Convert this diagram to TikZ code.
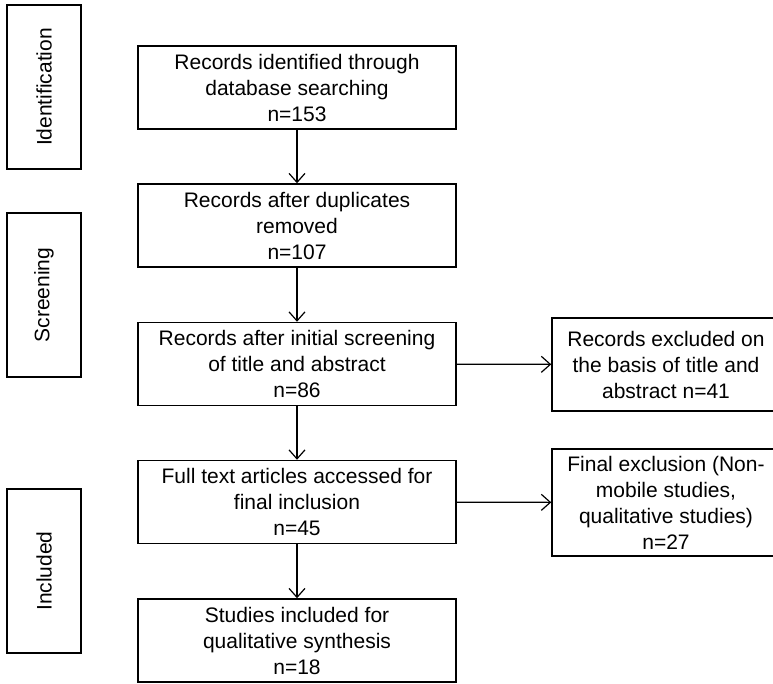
\documentclass[tikz,border=0pt]{standalone}
\usepackage{fontspec}
\setmainfont{Liberation Sans}
\usetikzlibrary{arrows.meta}
\tikzset{
  boxfont/.style={font=\fontsize{21}{26}\selectfont},
  stagebox/.style={draw, line width=1.5pt, rotate=90, minimum width=164pt, minimum height=74pt, inner sep=0pt, boxfont},
  flowbox/.style={draw, line width=1.5pt, minimum width=318pt, minimum height=83pt, align=center, inner sep=0pt, boxfont},
  exclbox/.style={draw, line width=1.5pt, minimum width=228pt, align=center, inner sep=0pt, boxfont},
  flowarrow/.style={line width=1.2pt, -{Straight Barb[length=9pt,width=16pt]}}
}
\begin{document}
\begin{tikzpicture}[x=1pt, y=-1pt]
            \useasboundingbox (0, 0) rectangle (773, 683);
            % stage labels
            \node[stagebox] (identlab) at (44, 87) {Identification};
            \node[stagebox] (screenlab) at (44, 295) {Screening};
            \node[stagebox] (inclab) at (44, 571) {Included};
            % main flow
            \node[flowbox] (search) at (297, 87.5) {Records identified through\\database searching\\n=153};
            \node[flowbox] (dupl) at (297, 225.5) {Records after duplicates\\removed\\n=107};
            \node[flowbox] (screen) at (297, 364) {Records after initial screening\\of title and abstract\\n=86};
            \node[flowbox] (fulltext) at (297, 502) {Full text articles accessed for\\final inclusion\\n=45};
            \node[flowbox] (synth) at (297, 640.5) {Studies included for\\qualitative synthesis\\n=18};
            % exclusions
            \node[exclbox, minimum height=93pt] (excl) at (666, 364.5) {Records excluded on\\the basis of title and\\abstract n=41};
            \node[exclbox, minimum height=107pt] (finalex) at (666, 502.5) {Final exclusion (Non-\\mobile studies,\\qualitative studies)\\n=27};
            \draw[flowarrow] (search) -- (dupl);
            \draw[flowarrow] (dupl) -- (screen);
            \draw[flowarrow] (screen) -- (fulltext);
            \draw[flowarrow] (fulltext) -- (synth);
            \draw[flowarrow] (screen) -- (excl);
            \draw[flowarrow] (fulltext) -- (finalex);
        \end{tikzpicture}
\end{document}
